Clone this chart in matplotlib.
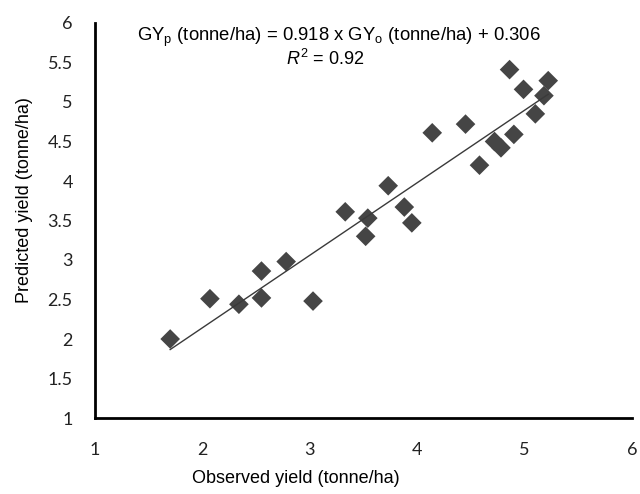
import matplotlib
matplotlib.use("Agg")
import matplotlib.pyplot as plt
import numpy as np

observed = [1.70, 2.07, 2.34, 2.55, 2.55, 2.78, 3.03, 3.33, 3.54, 3.52, 3.73, 3.88,
            3.95, 4.14, 4.45, 4.58, 4.72, 4.78, 4.90, 4.86, 4.99, 5.10, 5.18, 5.22]
predicted = [2.00, 2.51, 2.44, 2.52, 2.86, 2.98, 2.48, 3.61, 3.53, 3.30, 3.94, 3.67,
             3.47, 4.61, 4.72, 4.20, 4.50, 4.42, 4.59, 5.41, 5.16, 4.85, 5.08, 5.27]
slope = 0.918
intercept = 0.306
r2 = 0.92
xticks = [1, 2, 3, 4, 5, 6]
yticks = [1, 1.5, 2, 2.5, 3, 3.5, 4, 4.5, 5, 5.5, 6]

plt.rcParams['mathtext.fontset'] = 'custom'
plt.rcParams['mathtext.rm'] = 'Liberation Sans'
plt.rcParams['mathtext.it'] = 'Liberation Sans:italic'

fig = plt.figure(figsize=(6.4, 4.94), dpi=100)
ax = fig.add_axes([95/640, 76/494, 537/640, 395/494])

ax.scatter(observed, predicted, marker='D', s=10**2, color='#454545', edgecolors='none', zorder=3)
xs = np.array([min(observed), max(observed)])
ax.plot(xs, slope * xs + intercept, color='#3a3a3a', linewidth=1.0, zorder=4)

ax.set_xlim(1, 6)
ax.set_ylim(1, 6)
ax.set_xticks(xticks)
ax.set_yticks(yticks)
ax.set_xticklabels([f"{v:g}" for v in xticks], fontfamily='Lato', fontsize=13, color='#222222')
ax.set_yticklabels([f"{v:g}" for v in yticks], fontfamily='Lato', fontsize=13, color='#222222')
ax.tick_params(axis='both', length=0)
ax.tick_params(axis='x', pad=17)
ax.tick_params(axis='y', pad=16)

for s in ['top', 'right']:
    ax.spines[s].set_visible(False)
for s in ['left', 'bottom']:
    ax.spines[s].set_linewidth(2.0)
    ax.spines[s].set_color('black')

ax.set_xlabel('Observed yield (tonne/ha)', fontfamily='Liberation Sans', fontsize=13)
ax.set_ylabel('Predicted yield (tonne/ha)', fontfamily='Liberation Sans', fontsize=13)
ax.xaxis.set_label_coords(0.374, -0.132)
ax.yaxis.set_label_coords(-0.115, 0.552)

ax.text(3.27, 5.815,
        r'GY$_\mathregular{p}$ (tonne/ha) = ' + f'{slope:.3f}' + r' x GY$_\mathregular{o}$ (tonne/ha) + ' + f'{intercept:.3f}',
        ha='center', va='center', fontfamily='Liberation Sans', fontsize=13.3)
ax.text(3.14, 5.545, r'$R^2$ = ' + f'{r2:.2f}', ha='center', va='center',
        fontfamily='Liberation Sans', fontsize=13)

fig.savefig('out.png', dpi=100)
